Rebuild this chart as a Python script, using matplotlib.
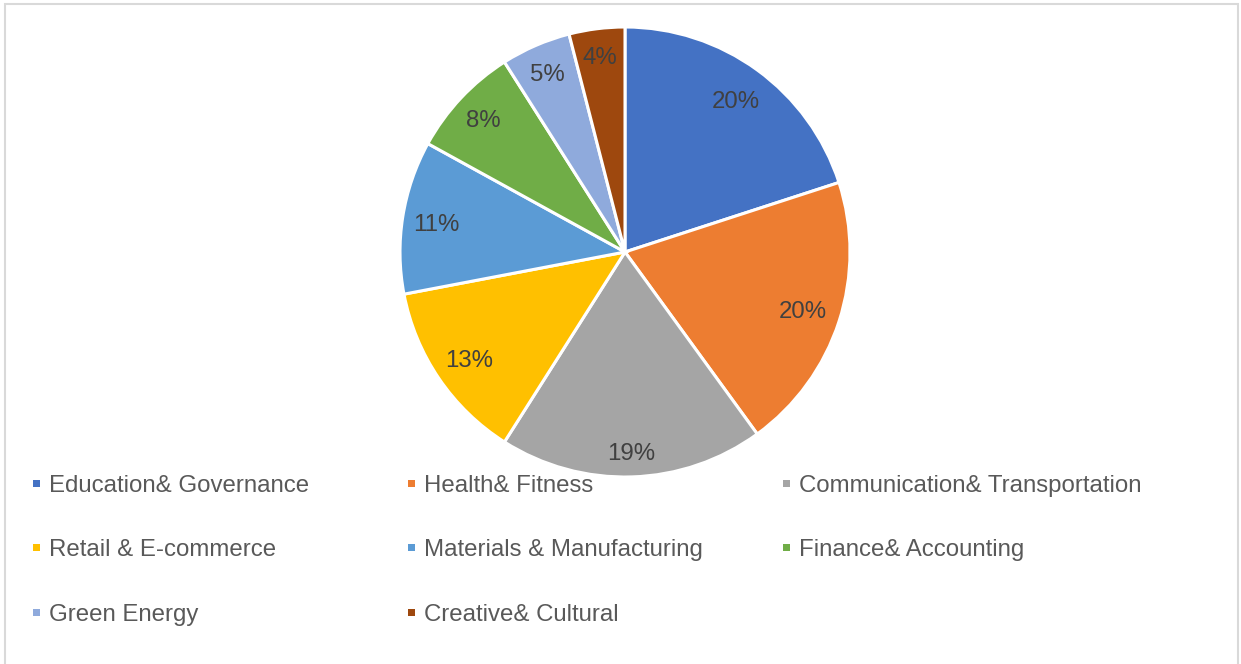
import numpy as np
import matplotlib.pyplot as plt
from matplotlib.patches import Rectangle

plt.rcParams['font.family'] = ['Liberation Sans', 'DejaVu Sans']

# sector shares (%)
sectors = ['Education& Governance', 'Health& Fitness', 'Communication& Transportation',
           'Retail & E-commerce', 'Materials & Manufacturing', 'Finance& Accounting',
           'Green Energy', 'Creative& Cultural']
shares = [20, 20, 19, 13, 11, 8, 5, 4]
colors = ['#4472C4', '#ED7D31', '#A5A5A5', '#FFC000',
          '#5B9BD5', '#70AD47', '#8FAADC', '#9E480E']

# radial placement of each percentage label (fraction of radius)
label_dist = [0.84, 0.83, 0.885, 0.84, 0.85, 0.865, 0.87, 0.88]

W, H = 1241, 664
FS = 17.3
cap = FS * 100 / 72 * 0.716  # cap height in px

fig = plt.figure(figsize=(W / 100, H / 100), dpi=100)

# chart border
fig.add_artist(Rectangle((5 / W, -0.05), 1233 / W, 1.05 - 4 / H, transform=fig.transFigure,
                         fill=False, edgecolor='#D9D9D9', linewidth=1.5))

cx, cy, r = 625, 252, 225
ax = fig.add_axes([(cx - r) / W, (H - cy - r) / H, 2 * r / W, 2 * r / H])
wedges, texts, autotexts = ax.pie(
    shares, colors=colors, startangle=90, counterclock=False,
    autopct='%1.0f%%', pctdistance=0.84,
    wedgeprops=dict(edgecolor='white', linewidth=2.2),
    textprops=dict(color='#404040', fontsize=FS))
for w, t, d in zip(wedges, autotexts, label_dist):
    a = np.deg2rad((w.theta1 + w.theta2) / 2)
    t.set_position((d * np.cos(a), d * np.sin(a) - cap / 2 / r))
    t.set_va('baseline')
ax.set_xlim(-1, 1)
ax.set_ylim(-1, 1)
ax.set_aspect('equal')
ax.axis('off')

# legend laid out in three columns under the pie
col_x = [33, 408, 783]
row_y = [483, 547, 612]
for i, (name, c) in enumerate(zip(sectors, colors)):
    x = col_x[i % 3]
    y = row_y[i // 3]
    fig.add_artist(Rectangle((x / W, (H - y - 3.5) / H), 7 / W, 7 / H,
                             transform=fig.transFigure, facecolor=c, edgecolor='none'))
    fig.text((x + 16) / W, (H - y - cap / 2) / H, name, fontsize=FS, color='#595959',
             va='baseline', ha='left')

fig.savefig('out.png', dpi=100)
